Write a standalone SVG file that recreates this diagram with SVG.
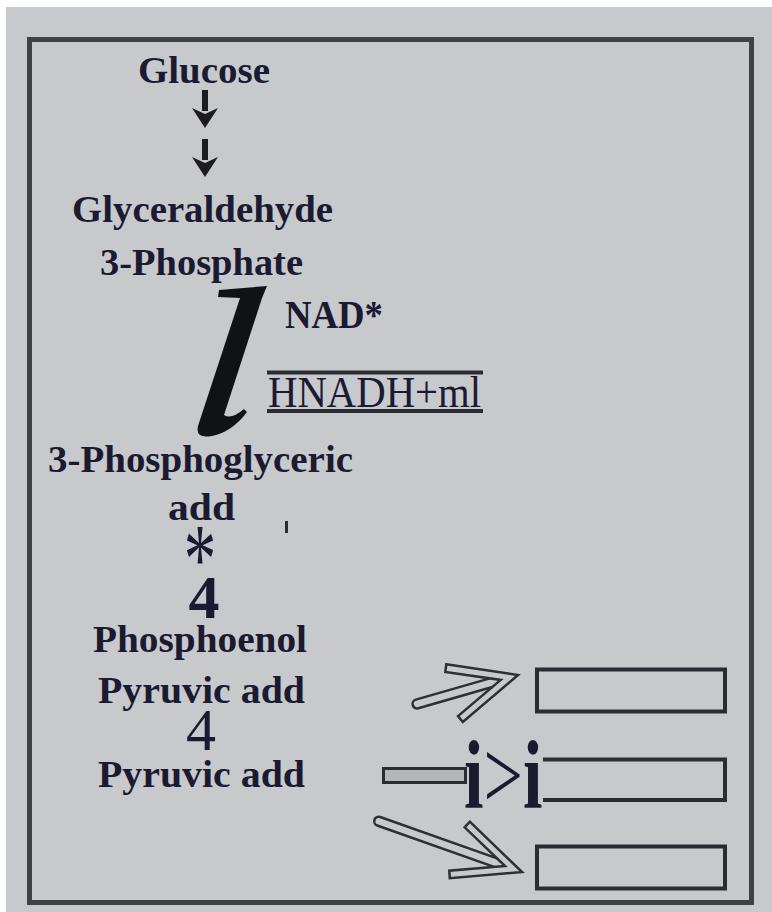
<svg xmlns="http://www.w3.org/2000/svg" width="772" height="912" viewBox="0 0 772 912">
<defs>
<style>
.t{font-family:"Liberation Serif","Times New Roman",serif;font-weight:bold;fill:#1a1a30;}
.r{font-family:"Liberation Serif","Times New Roman",serif;font-weight:normal;fill:#1a1a30;}
.ln{stroke:#2b2c33;stroke-width:4;fill:none;}
.ha{stroke:#2e2f36;stroke-width:2.5;fill:none;stroke-linejoin:miter;}
</style>
<path id="hhead" d="M-66,-30 L0,0 L-66,30 L-69,23 L-18,0 L-69,-23 Z"/>
<path id="dnarrow" d="M-3,0 H3 V21 H-3 Z M-13,18 L0,24 L13,18 L0,38 Z"/>
</defs>
<rect x="0" y="0" width="772" height="912" fill="#ffffff"/>
<rect x="6" y="7" width="766" height="905" fill="#c8c9cd"/>
<rect id="frame" x="29.5" y="39.5" width="722" height="863" fill="none" stroke="#404146" stroke-width="5"/>

<g id="connectors">
  <use href="#dnarrow" x="205" y="90" fill="#1c1c22"/>
  <use href="#dnarrow" x="205" y="139" fill="#1c1c22"/>
  <path id="hook-arrow" fill="#111216" d="M219,290 L267,286 L262,298 L224,415 Q231,420 244,409 L247,412 Q232,432 212,436 Q195,439 198,426 L240,298 L218,297 Z"/>
  <g id="arrow-up" transform="translate(518,675) rotate(-16)">
    <use href="#hhead" class="ha"/>
    <path class="ha" d="M-28,-4.5 H-105 A4.5,4.5 0 0 0 -105,4.5 H-28"/>
  </g>
  <g id="arrow-down" transform="translate(522,872) rotate(19.5)">
    <use href="#hhead" class="ha"/>
    <path class="ha" d="M-28,-4.5 H-152 A4.5,4.5 0 0 0 -152,4.5 H-28"/>
  </g>
  <rect id="arrow-mid" x="383.5" y="768.5" width="82" height="14" fill="#b5b6ba" stroke="#2b2c33" stroke-width="3"/>
</g>

<g id="glucose"><text class="t" x="138" y="83" font-size="38" textLength="132" lengthAdjust="spacingAndGlyphs">Glucose</text></g>
<g id="g3p">
<text class="t" x="72" y="222" font-size="38" textLength="261" lengthAdjust="spacingAndGlyphs">Glyceraldehyde</text>
<text class="t" x="100" y="275" font-size="38" textLength="203" lengthAdjust="spacingAndGlyphs">3-Phosphate</text>
</g>
<g id="nad"><text class="t" x="285" y="328" font-size="39" textLength="98" lengthAdjust="spacingAndGlyphs">NAD*</text></g>
<g id="nadh">
<line class="ln" x1="267" y1="372.5" x2="483" y2="372.5"/>
<line class="ln" x1="267" y1="411" x2="483" y2="411"/>
<text class="r" x="268" y="407" font-size="44" textLength="213" lengthAdjust="spacingAndGlyphs">HNADH+ml</text>
</g>
<g id="pga">
<text class="t" x="48" y="472" font-size="38" textLength="305" lengthAdjust="spacingAndGlyphs">3-Phosphoglyceric</text>
<text class="t" x="168" y="520" font-size="38" textLength="67" lengthAdjust="spacingAndGlyphs">add</text>
</g>
<rect x="285" y="521" width="3" height="12" fill="#2a2a35"/>
<g id="star"><text class="r" transform="translate(200,592) scale(0.65,1)" x="0" y="0" font-size="100" text-anchor="middle">*</text></g>
<g id="four1"><text class="t" x="204" y="618" font-size="62" text-anchor="middle">4</text></g>
<g id="pep">
<text class="t" x="93" y="652" font-size="38" textLength="214" lengthAdjust="spacingAndGlyphs">Phosphoenol</text>
<text class="t" x="98" y="703" font-size="38" textLength="207" lengthAdjust="spacingAndGlyphs">Pyruvic add</text>
</g>
<g id="four2"><text class="r" x="201" y="750" font-size="60" text-anchor="middle">4</text></g>
<g id="pyr"><text class="t" x="98" y="787" font-size="38" textLength="207" lengthAdjust="spacingAndGlyphs">Pyruvic add</text></g>

<g id="box1"><rect class="ln" x="537" y="669.5" width="188" height="42"/></g>
<g id="ii"><text transform="translate(464,808) scale(1,1.4)" x="0" y="0" font-size="70" class="r"><tspan font-weight="bold">i</tspan>&gt;<tspan font-weight="bold">i</tspan></text></g>
<g id="box2"><path class="ln" d="M543,759.5 H725 V800 H543"/></g>
<g id="box3"><rect class="ln" x="537" y="846.5" width="188" height="42"/></g>
</svg>
